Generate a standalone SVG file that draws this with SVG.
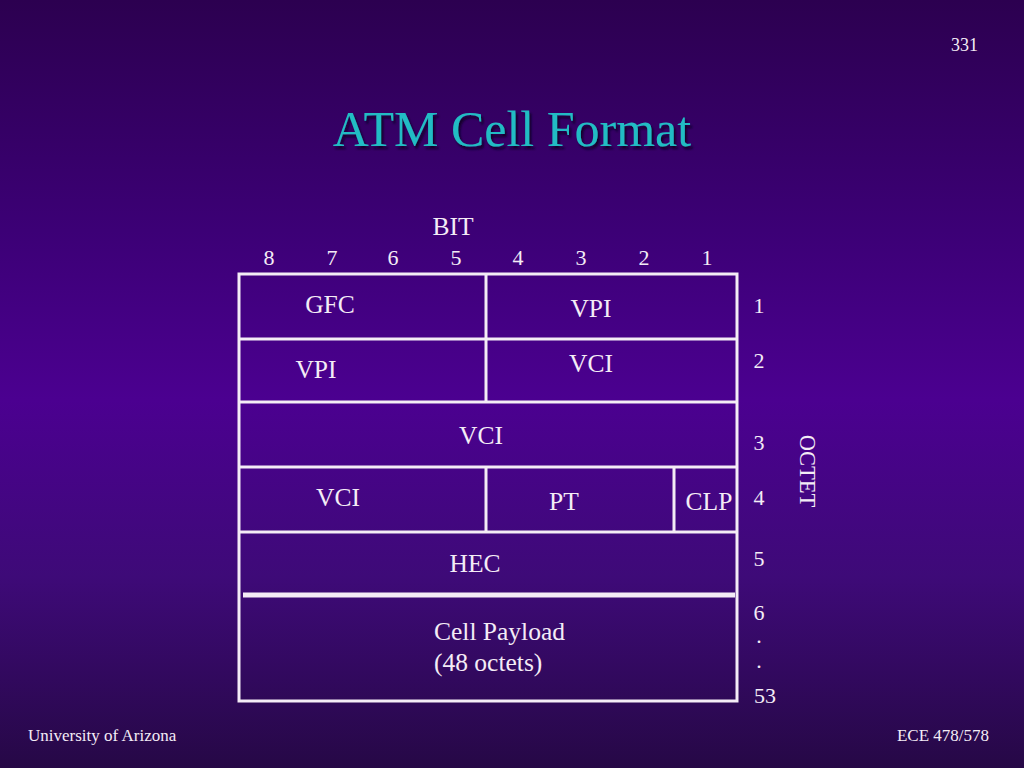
<svg xmlns="http://www.w3.org/2000/svg" width="1024" height="768" viewBox="0 0 1024 768" font-family="'Liberation Serif', 'Times New Roman', serif">
<defs>
<linearGradient id="bg" x1="0" y1="0" x2="0" y2="1">
<stop offset="0" stop-color="#2c0050"/>
<stop offset="0.3" stop-color="#3c0076"/>
<stop offset="0.52" stop-color="#4b0090"/>
<stop offset="0.75" stop-color="#3e0a78"/>
<stop offset="1" stop-color="#260846"/>
</linearGradient>
<filter id="sh" x="-5%" y="-5%" width="110%" height="130%">
<feDropShadow dx="2" dy="3" stdDeviation="1" flood-color="#100020" flood-opacity="0.9"/>
</filter>
<style>
text{font-family:"Liberation Serif","Times New Roman",serif;fill:#f4ecf6}
.lbl{font-size:25.5px;text-anchor:middle}
.num{font-size:22px;text-anchor:middle}
.ln{stroke:#f4ecf6;stroke-width:3;fill:none}
</style>
</defs>
<rect width="1024" height="768" fill="url(#bg)"/>
<text x="978" y="51" font-size="18" text-anchor="end">331</text>
<text x="512" y="146" font-size="50" style="fill:#22bcc4" text-anchor="middle" filter="url(#sh)">ATM Cell Format</text>
<g id="bits">
<text class="lbl" x="453" y="235">BIT</text>
<text class="num" x="269" y="265">8</text>
<text class="num" x="332" y="265">7</text>
<text class="num" x="393" y="265">6</text>
<text class="num" x="456" y="265">5</text>
<text class="num" x="518" y="265">4</text>
<text class="num" x="581" y="265">3</text>
<text class="num" x="644" y="265">2</text>
<text class="num" x="707" y="265">1</text>
</g>
<g id="table">
<rect class="ln" x="239" y="274" width="498" height="427"/>
<line class="ln" x1="239" y1="339" x2="737" y2="339"/>
<line class="ln" x1="239" y1="402" x2="737" y2="402"/>
<line class="ln" x1="239" y1="467" x2="737" y2="467"/>
<line class="ln" x1="239" y1="532" x2="737" y2="532"/>
<line x1="243" y1="595" x2="735" y2="595" stroke="#f4ecf6" stroke-width="5"/>
<line class="ln" x1="486" y1="274" x2="486" y2="402"/>
<line class="ln" x1="486" y1="467" x2="486" y2="532"/>
<line class="ln" x1="674" y1="467" x2="674" y2="532"/>
</g>
<g id="gfc"><text class="lbl" x="330" y="313">GFC</text></g>
<g id="vpi1"><text class="lbl" x="591" y="317">VPI</text></g>
<g id="vpi2"><text class="lbl" x="316" y="378">VPI</text></g>
<g id="vci1"><text class="lbl" x="591" y="372">VCI</text></g>
<g id="vci2"><text class="lbl" x="481" y="444">VCI</text></g>
<g id="vci3"><text class="lbl" x="338" y="506">VCI</text></g>
<g id="pt"><text class="lbl" x="564" y="510">PT</text></g>
<g id="clp"><text class="lbl" x="709" y="510">CLP</text></g>
<g id="hec"><text class="lbl" x="475" y="572">HEC</text></g>
<g id="payload" font-size="25.5">
<text x="434" y="640">Cell Payload</text>
<text x="434" y="671">(48 octets)</text>
</g>
<g id="octets">
<text class="num" x="759" y="313">1</text>
<text class="num" x="759" y="368">2</text>
<text class="num" x="759" y="450">3</text>
<text class="num" x="759" y="505">4</text>
<text class="num" x="759" y="566">5</text>
<text class="num" x="759" y="620">6</text>
<text class="num" x="759" y="643">.</text>
<text class="num" x="759" y="668">.</text>
<text class="num" x="765" y="703">53</text>
<text class="num" style="font-size:22.5px" transform="translate(800,471) rotate(90)">OCTET</text>
</g>
<text x="28" y="741" font-size="17">University of Arizona</text>
<text x="989" y="741" font-size="17" text-anchor="end">ECE 478/578</text>
</svg>
